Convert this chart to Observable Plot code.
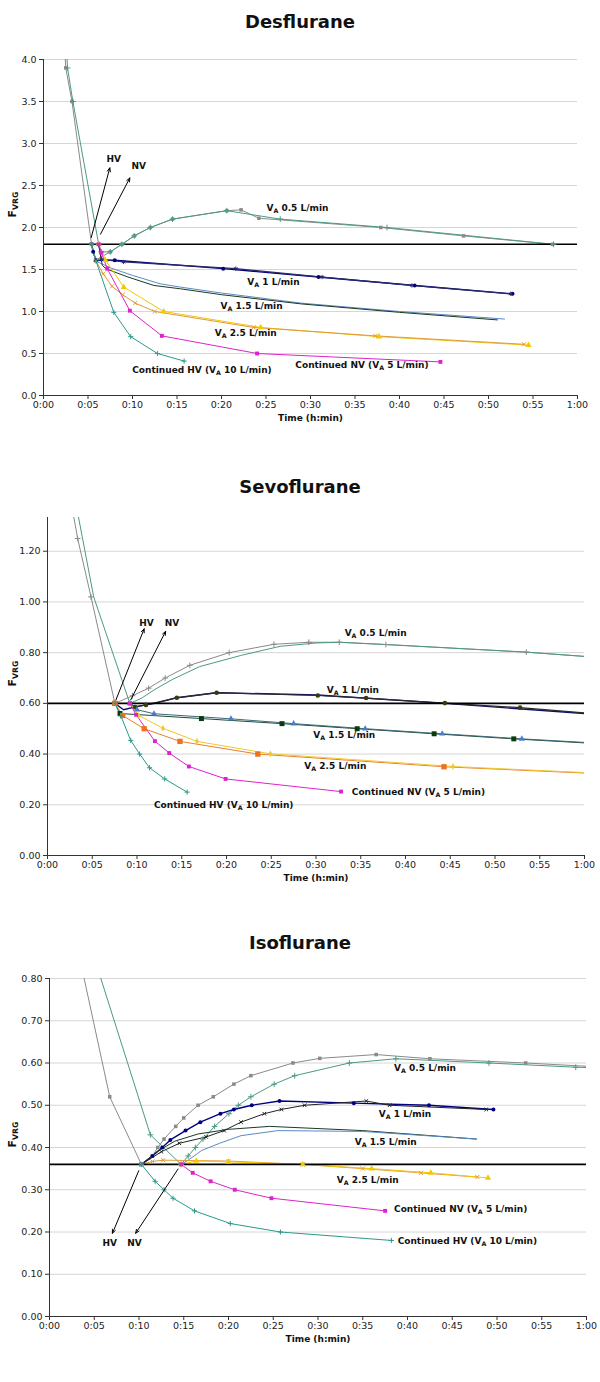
<!DOCTYPE html>
<html><head><meta charset="utf-8">
<script src="https://cdn.jsdelivr.net/npm/d3@7"></script>
<script src="https://cdn.jsdelivr.net/npm/@observablehq/plot@0.6"></script>
<style>
body{margin:0;background:#fff;width:600px;}
.title{font:bold 18px 'DejaVu Sans',Verdana,sans-serif;text-align:center;height:44px;line-height:44px;color:#111;}
svg text{white-space:pre;}
</style>
</head><body><div id="c"></div>
<script>
// ---------- DATA (x = minutes, y = F_VRG) ----------
// Desflurane
const desHV05 = [[2.0,4.8],[2.5,3.9],[3.2,3.5],[5.4,1.8],[5.84,1.61],[7.5,1.71],[8.8,1.8],[10.2,1.9],[12.0,2.0],[14.5,2.1],[20.6,2.2],[22.2,2.21],[24.2,2.11],[37.9,2.0],[47.2,1.9],[57.2,1.8]];
const desNV05 = [[2.2,4.8],[2.7,3.9],[3.3,3.5],[6.2,1.8],[6.48,1.71],[7.5,1.71],[8.8,1.8],[10.2,1.9],[12.0,2.0],[14.5,2.1],[20.6,2.2],[26.6,2.1],[38.6,2.0],[57.3,1.8]];
const desHV1 = [[5.4,1.8],[5.58,1.71],[5.9,1.61],[8.0,1.61],[20.2,1.51],[30.9,1.41],[41.7,1.31],[52.7,1.21]];
const desNV1 = [[6.2,1.8],[6.5,1.62],[9.0,1.59],[21.6,1.51],[31.3,1.41],[41.4,1.31],[52.5,1.21]];
const desHV15 = [[5.4,1.8],[5.9,1.6],[7.5,1.52],[10.0,1.43],[13.1,1.33],[15.4,1.29],[20.0,1.22],[28.9,1.1],[40.0,1.0],[51.8,0.91]];
const desNV15 = [[6.2,1.8],[6.6,1.55],[7.0,1.51],[9.5,1.41],[12.4,1.31],[15.4,1.27],[20.0,1.2],[29.0,1.09],[40.0,0.99],[51.0,0.9]];
const desNV25 = [[6.2,1.8],[6.97,1.61],[9.02,1.29],[13.5,1.0],[24.4,0.81],[37.7,0.7],[54.5,0.6]];
const desHV25 = [[5.4,1.8],[5.9,1.6],[6.7,1.45],[7.7,1.3],[8.9,1.2],[10.3,1.1],[12.5,1.0],[23.6,0.81],[37.3,0.71],[54.0,0.61]];
const desNV5 = [[6.2,1.8],[6.5,1.7],[7.16,1.51],[9.7,1.01],[13.3,0.71],[24.0,0.5],[44.6,0.4]];
const desHV10 = [[5.4,1.8],[5.9,1.6],[7.9,0.99],[9.8,0.7],[12.8,0.5],[15.8,0.41]];
const desLabels = [
  {x:25.05,y:2.23,t:"V_A 0.5 L/min"},{x:22.9,y:1.35,t:"V_A 1 L/min"},{x:19.9,y:1.07,t:"V_A 1.5 L/min"},
  {x:19.25,y:0.742,t:"V_A 2.5 L/min"},{x:28.3,y:0.357,t:"Continued NV (V_A 5 L/min)"},{x:9.97,y:0.306,t:"Continued HV (V_A 10 L/min)"}];
const desTags = [{x:7.9,y:2.82,t:"HV"},{x:10.7,y:2.73,t:"NV"}];
const desArrows = [{x1:5.36,y1:1.88,x2:7.45,y2:2.71},{x1:6.4,y1:1.92,x2:9.7,y2:2.59}];

// Sevoflurane
const sevHV05 = [[2.5,1.42],[3.37,1.25],[4.86,1.02],[7.53,0.6],[9.5,0.63],[11.3,0.66],[13.15,0.7],[15.9,0.75],[20.3,0.8],[25.3,0.833],[29.2,0.841],[32.6,0.841],[37.8,0.832],[53.5,0.802],[62,0.78]];
const sevNV05 = [[3.0,1.42],[5.16,1.02],[9.2,0.6],[10.5,0.62],[12.0,0.655],[14.0,0.695],[17.0,0.745],[21.6,0.789],[26.0,0.825],[30.0,0.838],[32.6,0.841],[37.8,0.832],[53.5,0.802],[62,0.78]];
const sevHV1 = [[7.53,0.6],[8.5,0.575],[10.0,0.588],[12.0,0.6],[14.4,0.622],[18.9,0.642],[30.2,0.633],[44.4,0.6],[62,0.555]];
const sevNV1 = [[9.2,0.6],[9.8,0.585],[11.0,0.594],[14.45,0.622],[18.9,0.642],[30.2,0.631],[35.6,0.621],[44.4,0.601],[52.8,0.583],[62,0.557]];
const sevHV15 = [[7.53,0.6],[8.1,0.56],[17.2,0.54],[26.2,0.52],[34.6,0.5],[43.2,0.48],[52.1,0.46],[62,0.44]];
const sevNV15 = [[9.2,0.6],[10.0,0.575],[11.9,0.559],[20.5,0.539],[27.5,0.52],[35.5,0.5],[44.1,0.48],[53.0,0.46],[62,0.442]];
const sevHV25 = [[7.53,0.6],[8.4,0.552],[10.8,0.5],[14.8,0.45],[23.5,0.4],[44.3,0.35],[62,0.322]];
const sevNV25 = [[9.2,0.6],[10.2,0.552],[12.9,0.502],[16.7,0.45],[24.9,0.401],[45.3,0.351],[62,0.324]];
const sevNV5 = [[9.2,0.6],[9.9,0.555],[12.0,0.451],[13.6,0.404],[15.8,0.351],[19.9,0.302],[32.8,0.252]];
const sevHV10 = [[7.53,0.6],[8.2,0.55],[9.3,0.454],[10.3,0.4],[11.4,0.346],[13.1,0.302],[15.6,0.25]];
const sevLabels = [
  {x:33.2,y:0.876,t:"V_A 0.5 L/min"},{x:31.2,y:0.651,t:"V_A 1 L/min"},{x:29.7,y:0.473,t:"V_A 1.5 L/min"},
  {x:28.7,y:0.352,t:"V_A 2.5 L/min"},{x:34.0,y:0.25,t:"Continued NV (V_A 5 L/min)"},{x:11.9,y:0.2,t:"Continued HV (V_A 10 L/min)"}];
const sevTags = [{x:11.07,y:0.918,t:"HV"},{x:13.9,y:0.918,t:"NV"}];
const sevArrows = [{x1:7.65,y1:0.614,x2:10.8,y2:0.894},{x1:9.3,y1:0.614,x2:13.2,y2:0.884}];

// Isoflurane
const isoHV05 = [[2.85,0.9],[6.73,0.52],[10.27,0.36],[11.5,0.38],[12.1,0.4],[12.8,0.42],[14.1,0.45],[15.0,0.47],[16.6,0.5],[18.3,0.52],[20.6,0.55],[22.5,0.57],[27.2,0.6],[30.2,0.611],[36.5,0.62],[42.5,0.61],[53.2,0.6],[62,0.59]];
const isoNV05 = [[4.24,0.9],[11.27,0.43],[14.7,0.36],[15.5,0.38],[16.3,0.4],[17.15,0.42],[18.45,0.45],[20.05,0.48],[21.1,0.5],[22.5,0.52],[25.1,0.55],[27.4,0.57],[33.5,0.6],[38.7,0.61],[49.1,0.6],[58.8,0.59],[62,0.588]];
const isoHV1 = [[10.27,0.36],[11.5,0.38],[12.6,0.4],[13.5,0.418],[15.2,0.44],[16.85,0.46],[19.1,0.48],[20.6,0.49],[22.6,0.5],[25.7,0.51],[34.0,0.505],[42.4,0.5],[49.6,0.49]];
const isoBlack1 = [[10.27,0.36],[12.5,0.39],[14.5,0.41],[17.5,0.425],[19.5,0.44],[21.4,0.46],[24.0,0.48],[25.9,0.49],[28.5,0.5],[35.4,0.51],[38.0,0.5],[48.8,0.49]];
const isoGreen15 = [[10.27,0.36],[12.0,0.39],[14.0,0.415],[16.6,0.432],[20.0,0.443],[24.6,0.45],[35.0,0.44],[47.7,0.42]];
const isoBlue15 = [[14.7,0.36],[15.5,0.37],[17.0,0.393],[19.0,0.41],[21.4,0.428],[25.5,0.44],[35.0,0.438],[47.7,0.42]];
const isoHV25 = [[10.27,0.36],[11.5,0.367],[12.7,0.37],[20.0,0.368],[28.3,0.36],[35.0,0.35],[41.5,0.34],[47.8,0.33]];
const isoNV25 = [[14.7,0.36],[16.4,0.368],[20.0,0.366],[28.3,0.36],[36.0,0.35],[42.6,0.34],[49.0,0.328]];
const isoNV5 = [[14.7,0.36],[16.0,0.34],[18.0,0.32],[20.7,0.3],[24.8,0.28],[37.5,0.25]];
const isoHV10 = [[10.27,0.36],[11.8,0.32],[12.8,0.3],[13.8,0.28],[16.2,0.25],[20.2,0.22],[25.8,0.2],[38.2,0.18]];
const isoLabels = [
  {x:38.5,y:0.588,t:"V_A 0.5 L/min"},{x:36.8,y:0.478,t:"V_A 1 L/min"},{x:34.1,y:0.412,t:"V_A 1.5 L/min"},
  {x:32.1,y:0.322,t:"V_A 2.5 L/min"},{x:38.5,y:0.255,t:"Continued NV (V_A 5 L/min)"},{x:38.9,y:0.178,t:"Continued HV (V_A 10 L/min)"}];
const isoTags = [{x:6.73,y:0.174,t:"HV"},{x:9.5,y:0.174,t:"NV"}];
const isoArrows = [{x1:9.97,y1:0.345,x2:7.03,y2:0.197},{x1:14.36,y1:0.349,x2:9.63,y2:0.197}];

const timeTicks = d3.range(0, 61, 5);
const desTicks = d3.range(0, 4.01, 0.5);
const sevTicks = [0,0.2,0.4,0.6,0.8,1.0,1.2];
const isoTicks = [0,0.1,0.2,0.3,0.4,0.5,0.6,0.7,0.8];

// ---------- STYLES ----------
const S = {
  gray:   {color:"#8a8a8a", symbol:"square", r:2},
  grayP:  {color:"#8a8a8a", symbol:"plus", r:2},
  green05:{color:"#4a9a84", symbol:"plus", r:2},
  navyC:  {color:"#000080", symbol:"circle", r:2, w:1.4},
  navyL:  {color:"#10106a", w:1.4},
  navyA:  {color:"#2a2a66", symbol:"asterisk", r:2, w:1.2},
  oliveC: {color:"#2a2a30", mark:"#3a3a10", symbol:"circle", r:2.3, w:1.2},
  steel:  {color:"#5a8ac6"},
  steelT: {color:"#3c6a78", mark:"#4a7ed0", symbol:"triangle", r:2.3},
  dkgreen:{color:"#1a3a22"},
  dkgreenS:{color:"#1f4a38", mark:"#0d3a0d", symbol:"square", r:2.8},
  yellowT:{color:"#f2c800", symbol:"triangle", r:2.3},
  yellowD:{color:"#f0c830", symbol:"diamond", r:2},
  orangeX:{color:"#e09a3a", symbol:"times", r:2},
  orangeS:{color:"#e8802a", mark:"#ee7020", symbol:"square", r:3},
  magenta:{color:"#dd22cc", symbol:"square", r:2.2},
  teal:   {color:"#2a9a8a", symbol:"plus", r:1.8},
  black:  {color:"#222222", symbol:"times", r:1.8}
};

const desSeries = [
  {pts:desHV05, st:S.gray},{pts:desNV05, st:S.green05},{pts:desHV1, st:S.navyC},{pts:desNV1, st:S.navyA},
  {pts:desHV15, st:S.steel},{pts:desNV15, st:S.dkgreen},{pts:desNV25, st:S.yellowT},{pts:desHV25, st:S.orangeX},
  {pts:desNV5, st:S.magenta},{pts:desHV10, st:S.teal}];
const sevSeries = [
  {pts:sevHV05, st:S.grayP},{pts:sevNV05, st:{color:"#4a9a84"}},{pts:sevHV1, st:S.navyL},{pts:sevNV1, st:S.oliveC},
  {pts:sevHV15, st:S.dkgreenS},{pts:sevNV15, st:S.steelT},{pts:sevHV25, st:S.orangeS},{pts:sevNV25, st:S.yellowD},
  {pts:sevNV5, st:S.magenta},{pts:sevHV10, st:S.teal}];
const isoSeries = [
  {pts:isoHV05, st:S.gray},{pts:isoNV05, st:S.green05},{pts:isoHV1, st:S.navyC},{pts:isoBlack1, st:S.black},
  {pts:isoGreen15, st:S.dkgreen},{pts:isoBlue15, st:S.steel},{pts:isoHV25, st:S.orangeX},{pts:isoNV25, st:S.yellowT},
  {pts:isoNV5, st:S.magenta},{pts:isoHV10, st:S.teal}];

const fmtTime = d => `${Math.floor(d/60)}:${String(d%60).padStart(2,"0")}`;

function subscript(svg) {
  svg.querySelectorAll("text").forEach(t => {
    const s = t.textContent;
    const m = s.match(/^(.*?)([A-Z])_([A-Z]+)(.*)$/);
    if (!m) return;
    while (t.firstChild) t.removeChild(t.firstChild);
    const add = (txt, attrs) => {
      const ts = document.createElementNS("http://www.w3.org/2000/svg", "tspan");
      ts.textContent = txt;
      for (const k in attrs) ts.setAttribute(k, attrs[k]);
      t.appendChild(ts);
    };
    add(m[1] + m[2], {});
    add(m[3], {"font-size": "70%", dy: "2"});
    if (m[4]) add(m[4], {dy: "-2"});
  });
}

function panel(c) {
  const X = d => d[0], Y = d => d[1];
  const marks = [
    Plot.gridY(c.yTicks, {stroke:"#d6d6d6", strokeOpacity:1}),
    Plot.axisY(c.yTicks, {tickFormat:c.yFmt, tickSize:4, tickPadding:3, label:null, stroke:"#333", fill:"#222"}),
    Plot.axisX(timeTicks, {tickFormat:fmtTime, tickSize:4, tickPadding:2, label:null, stroke:"#333", fill:"#222"})
  ];
  c.series.forEach(s => marks.push(Plot.line(s.pts, {x:X, y:Y, stroke:s.st.color, strokeWidth:s.st.w || 1, clip:true})));
  marks.push(Plot.ruleY([c.ref], {stroke:"#000", strokeWidth:1.6}));
  c.series.forEach(s => {
    const st = s.st;
    if (!st.symbol) return;
    const filled = ["square","circle","triangle","diamond"].includes(st.symbol);
    const col = st.mark || st.color;
    marks.push(Plot.dot(s.pts, {x:X, y:Y, symbol:st.symbol, r:st.r || 2,
      fill: filled ? col : "none", stroke: filled ? "none" : col, strokeWidth:1, clip:true}));
  });
  marks.push(
    Plot.ruleX([0], {stroke:"#333"}),
    Plot.ruleY([0], {stroke:"#333"}),
    Plot.arrow(c.arrows, {x1:"x1", y1:"y1", x2:"x2", y2:"y2", stroke:"#000", strokeWidth:1, headLength:6, headAngle:45}),
    Plot.text(c.labels, {x:"x", y:"y", text:"t", textAnchor:"start", fontWeight:"bold", fontSize:9, fill:"#111"}),
    Plot.text(c.tags, {x:"x", y:"y", text:"t", fontWeight:"bold", fontSize:9, fill:"#111"}),
    Plot.text(["Time (h:min)"], {text:d => d, frameAnchor:"bottom", dy:25, fontWeight:"bold", fontSize:9, fill:"#111"}),
    Plot.text(["F_VRG"], {text:d => d, frameAnchor:"left", dx:-(c.ml - 12), dy:c.yLabelDy || 0, rotate:-90, fontWeight:"bold", fontSize:11, fill:"#111"})
  );
  const svg = Plot.plot({
    width:600, height:c.height,
    marginTop:c.mt, marginBottom:c.mb, marginLeft:c.ml, marginRight:c.mr,
    x:{domain:[0,60]}, y:{domain:c.yDomain},
    style:{fontFamily:"'DejaVu Sans', Verdana, sans-serif", fontSize:"9.5px", background:"#fff", color:"#222"},
    marks
  });
  subscript(svg);
  return svg;
}

const root = document.getElementById("c");
function addPanel(title, cfg) {
  const t = document.createElement("div");
  t.className = "title"; t.textContent = title;
  root.appendChild(t);
  root.appendChild(panel(cfg));
}

addPanel("Desflurane", {series:desSeries, labels:desLabels, tags:desTags, arrows:desArrows, ref:1.8,
  yDomain:[0,4], yTicks:desTicks, yFmt:d3.format(".1f"), height:421, mt:15, mb:70, ml:43, mr:23, yLabelDy:-10});
addPanel("Sevoflurane", {series:sevSeries, labels:sevLabels, tags:sevTags, arrows:sevArrows, ref:0.6,
  yDomain:[0,1.333], yTicks:sevTicks, yFmt:d3.format(".2f"), height:412, mt:8, mb:66, ml:47, mr:16});
addPanel("Isoflurane", {series:isoSeries, labels:isoLabels, tags:isoTags, arrows:isoArrows, ref:0.36,
  yDomain:[0,0.8], yTicks:isoTicks, yFmt:d3.format(".2f"), height:417, mt:13, mb:66, ml:49, mr:14});
</script>
</body></html>
